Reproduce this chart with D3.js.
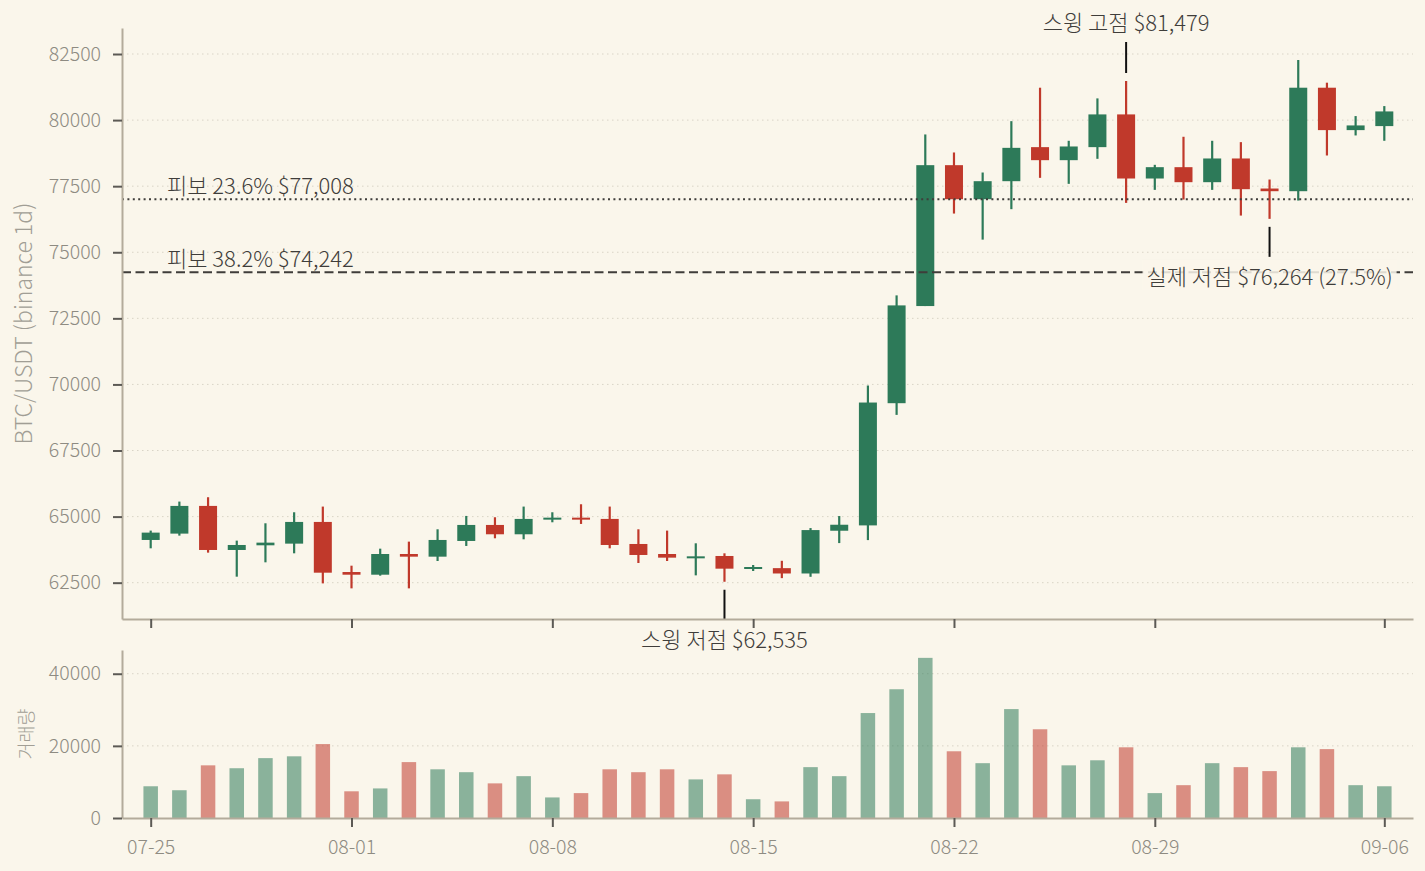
<!DOCTYPE html>
<html>
<head>
<meta charset="utf-8">
<script src="https://cdn.jsdelivr.net/npm/d3@7"></script>
<style>
  body { margin: 0; background: #faf6eb; }
  svg, svg text { font-family: "Noto Sans CJK KR Light", "Noto Sans CJK KR DemiLight", "Noto Sans CJK KR", "Noto Sans", sans-serif; font-weight: 300; }
  .axis .domain { stroke: #b3ab9b; stroke-width: 2; }
  .axis .tick line { stroke: #5c5a55; stroke-width: 2; }
  .axis .tick text { fill: #8e8b82; font-size: 19.5px; }
  .grid line { stroke: #d9d4c6; stroke-width: 1; stroke-dasharray: 1.5,3.5; }
</style>
</head>
<body>
<svg id="chart" width="1425" height="871"></svg>
<script>
// daily candles, binance BTC/USDT
const dates = ['07-25','07-26','07-27','07-28','07-29','07-30','07-31','08-01','08-02','08-03','08-04',
  '08-05','08-06','08-07','08-08','08-09','08-10','08-11','08-12','08-13','08-14','08-15',
  '08-16','08-17','08-18','08-19','08-20','08-21','08-22','08-23','08-24','08-25','08-26',
  '08-27','08-28','08-29','08-30','08-31','09-01','09-02','09-03','09-04','09-05','09-06'];
const opens = [64116,64356,65404,63737,63914,63977,64798,62903,62802,63585,63484,
  64078,64684,64331,64890,64960,64912,63964,63585,63447,63510,63030,
  63050,62848,64465,64667,69290,72965,78295,77007,77689,78977,78484,
  78977,80215,77790,78219,77651,78548,77411,77310,81225,79621,79773];
const highs = [64470,65568,65733,64091,64747,65164,65379,63143,63787,64053,64520,
  65025,64975,65379,65164,65467,65379,64520,64470,63990,63611,63169,
  63328,64566,65021,69959,73369,79457,78775,78017,79960,81225,79217,
  80821,81479,78308,79369,79217,79166,77752,82273,81415,80152,80530];
const lows = [63800,64280,63636,62727,63270,63611,62474,62285,62765,62285,63320,
  63889,64179,64141,64785,64722,63800,63244,63320,62777,62535,62941,
  62672,62722,63998,64111,68848,72965,76464,75478,76630,77815,77588,
  78535,76868,77360,76994,77360,76388,76264,76956,78661,79419,79217];
const closes = [64394,65404,63737,63926,64015,64798,62878,62802,63585,63484,64116,
  64684,64331,64912,64960,64890,63926,63548,63447,63497,63030,63093,
  62848,64490,64692,69315,72990,78295,77007,77689,78950,78484,79002,
  80215,77790,78219,77651,78548,77386,77310,81225,79621,79798,80328];
const volumes = [8800,7700,14600,13800,16600,17100,20500,7400,8200,15500,13500,
  12700,9600,11600,5700,6900,13500,12700,13500,10700,12100,5200,
  4600,14100,11600,29100,35700,44400,18500,15200,30200,24600,14600,
  16000,19600,6900,9100,15200,14100,13000,19600,19100,9100,8800];

const tickLabels = ['07-25','08-01','08-08','08-15','08-22','08-29','09-06'];
const priceTicks = [62500,65000,67500,70000,72500,75000,77500,80000,82500];
const volumeTicks = [0,20000,40000];

const swingHigh = { date: '08-28', value: 81479 };
const swingLow = { date: '08-14', value: 62535 };
const actualLow = { date: '09-02', value: 76264 };
const fibRatios = [0.236, 0.382];

const UP = '#2d7a59';
const DOWN = '#c0392b';
const INK = '#3f3d3a';

const candles = dates.map((d, i) => ({
  i, date: d, open: opens[i], high: highs[i], low: lows[i], close: closes[i], volume: volumes[i]
}));

const svg = d3.select('#chart');
const width = +svg.attr('width');
const height = +svg.attr('height');
svg.append('rect').attr('width', width).attr('height', height).attr('fill', '#faf6eb');

const left = 122, right = 1413;
const x = d3.scaleLinear().domain([-1, dates.length]).range([left, right]);
const y = d3.scaleLinear().domain([61126, 83484]).range([619, 28]);
const yVol = d3.scaleLinear().domain([0, 46580]).range([818, 650]);
const fmt = d3.format(',');
const xi = d => x(dates.indexOf(d));

// grid
svg.append('g').attr('class', 'grid')
  .selectAll('line').data(priceTicks).enter().append('line')
  .attr('x1', left).attr('x2', right)
  .attr('y1', d => y(d)).attr('y2', d => y(d));
svg.append('g').attr('class', 'grid')
  .selectAll('line').data(volumeTicks.slice(1)).enter().append('line')
  .attr('x1', left).attr('x2', right)
  .attr('y1', d => yVol(d)).attr('y2', d => yVol(d));

// candles
const bodyW = 18;
const cg = svg.append('g').selectAll('g').data(candles).enter().append('g')
  .attr('fill', d => d.close >= d.open ? UP : DOWN)
  .attr('stroke', d => d.close >= d.open ? UP : DOWN);
cg.append('line')
  .attr('x1', d => x(d.i)).attr('x2', d => x(d.i))
  .attr('y1', d => y(d.high)).attr('y2', d => y(d.low))
  .attr('stroke-width', 2.2);
cg.append('rect')
  .attr('x', d => x(d.i) - bodyW / 2)
  .attr('width', bodyW)
  .attr('y', d => y(Math.max(d.open, d.close)))
  .attr('height', d => Math.max(2, Math.abs(y(d.open) - y(d.close))))
  .attr('stroke', 'none');

// volume bars
const volW = 14.5;
svg.append('g').selectAll('rect').data(candles).enter().append('rect')
  .attr('x', d => x(d.i) - volW / 2)
  .attr('width', volW)
  .attr('y', d => yVol(d.volume))
  .attr('height', d => yVol(0) - yVol(d.volume))
  .attr('fill', d => d.close >= d.open ? UP : DOWN)
  .attr('fill-opacity', 0.55);

// fibonacci retracement levels
const range = swingHigh.value - swingLow.value;
const fibs = fibRatios.map(r => ({ r, v: swingHigh.value - r * range }));
svg.append('g').selectAll('line').data(fibs).enter().append('line')
  .attr('x1', left).attr('x2', right)
  .attr('y1', d => y(d.v)).attr('y2', d => y(d.v))
  .attr('stroke', INK)
  .attr('stroke-width', 2)
  .attr('stroke-dasharray', (d, i) => i === 0 ? '2,3.4' : '9,4.5');
svg.append('g').selectAll('text').data(fibs).enter().append('text')
  .attr('x', 167)
  .attr('y', d => y(d.v) - 5)
  .attr('fill', INK)
  .attr('font-size', 22)
  .text(d => `피보 ${(d.r * 100).toFixed(1)}% $${fmt(Math.round(d.v))}`);

// swing markers
const marks = [
  { ...swingHigh, up: true, label: `스윙 고점 $${fmt(swingHigh.value)}` },
  { ...swingLow, up: false, label: `스윙 저점 $${fmt(swingLow.value)}` },
  { ...actualLow, up: false, boxed: true,
    label: `실제 저점 $${fmt(actualLow.value)} (${((swingHigh.value - actualLow.value) / range * 100).toFixed(1)}%)` }
];
const mg = svg.append('g').selectAll('g').data(marks).enter().append('g');
mg.append('line')
  .attr('x1', d => xi(d.date)).attr('x2', d => xi(d.date))
  .attr('y1', d => d.up ? y(d.value) - 39 : y(d.value) + 8)
  .attr('y2', d => d.up ? y(d.value) - 8 : y(d.value) + 38)
  .attr('stroke', '#111')
  .attr('stroke-width', 2);
mg.append('text')
  .attr('x', d => xi(d.date))
  .attr('y', d => d.up ? y(d.value) - 60 : y(d.value) + 56)
  .attr('text-anchor', 'middle')
  .attr('dominant-baseline', 'central')
  .attr('fill', INK)
  .attr('font-size', 22)
  .text(d => d.label);
mg.filter(d => d.boxed).each(function () {
  const g = d3.select(this);
  const b = g.select('text').node().getBBox();
  g.insert('rect', 'text')
    .attr('x', b.x - 4).attr('y', b.y + 1)
    .attr('width', b.width + 8).attr('height', b.height - 2)
    .attr('fill', '#faf6eb').attr('fill-opacity', 0.85);
});

// axes
const xTicks = tickLabels.map(t => dates.indexOf(t));
svg.append('g').attr('class', 'axis')
  .attr('transform', `translate(${left},0)`)
  .call(d3.axisLeft(y).tickValues(priceTicks).tickFormat(d3.format('d')).tickSize(9).tickPadding(12).tickSizeOuter(0));
svg.append('g').attr('class', 'axis')
  .attr('transform', 'translate(0,619)')
  .call(d3.axisBottom(x).tickValues(xTicks).tickFormat('').tickSize(9).tickSizeOuter(0));
svg.append('g').attr('class', 'axis')
  .attr('transform', `translate(${left},0)`)
  .call(d3.axisLeft(yVol).tickValues(volumeTicks).tickFormat(d3.format('d')).tickSize(9).tickPadding(12).tickSizeOuter(0));
svg.append('g').attr('class', 'axis')
  .attr('transform', 'translate(0,818)')
  .call(d3.axisBottom(x).tickValues(xTicks).tickFormat(i => dates[i]).tickSize(9).tickPadding(13).tickSizeOuter(0));
svg.selectAll('.axis').attr('font-family', null);

// axis titles
svg.append('text')
  .attr('transform', `translate(22,${(28 + 619) / 2}) rotate(-90)`)
  .attr('text-anchor', 'middle')
  .attr('dominant-baseline', 'central')
  .attr('fill', '#a19e95')
  .attr('font-size', 23)
  .text('BTC/USDT (binance 1d)');
svg.append('text')
  .attr('transform', `translate(25,${(650 + 818) / 2}) rotate(-90)`)
  .attr('text-anchor', 'middle')
  .attr('dominant-baseline', 'central')
  .attr('fill', '#a19e95')
  .attr('font-size', 18.5)
  .text('거래량');
</script>
</body>
</html>
